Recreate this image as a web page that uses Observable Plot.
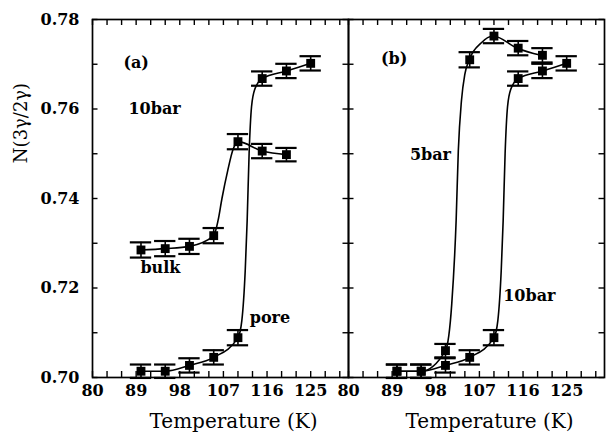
<!DOCTYPE html>
<html>
<head>
<meta charset="utf-8">
<script src="https://cdn.jsdelivr.net/npm/d3@7"></script>
<script src="https://cdn.jsdelivr.net/npm/@observablehq/plot@0.6"></script>
<style>
  html, body { margin: 0; padding: 0; background: #fff; }
  #chart { width: 607px; height: 437px; }
</style>
</head>
<body>
<div id="chart"></div>
<script>
// ---- data ----
const temps = [90, 95, 100, 105, 110, 115, 120, 125];

// panel (a), 10 bar
const bulk10 = [0.7285, 0.7288, 0.7293, 0.7317, 0.7527, 0.7506, 0.7498];
const bulkErr = [0.0017, 0.0017, 0.0017, 0.0017, 0.0017, 0.0016, 0.0015];
const pore10 = [0.7014, 0.7014, 0.7027, 0.7045, 0.7089, 0.7668, 0.7685, 0.7702];
const poreErr = [0.0015, 0.0015, 0.0016, 0.0016, 0.0017, 0.0016, 0.0016, 0.0016];

// panel (b), 5 bar (pore)
const pore5 = [0.7014, 0.7014, 0.7060, 0.7710, 0.7763, 0.7736, 0.7720];
const pore5Err = [0.0015, 0.0015, 0.0015, 0.0017, 0.0016, 0.0016, 0.0016];

// fitted guide curves
const bulkCurveX = [90, 95, 100, 105, 105.9, 106.7, 107.9, 109.0, 110, 115, 120];
const bulkCurveY = [0.7285, 0.7288, 0.7293, 0.7317, 0.7351, 0.7400, 0.7463, 0.7510, 0.7527, 0.7506, 0.7498];
const poreCurveX = [90, 95, 100, 105, 110, 110.8, 111.5, 111.9, 112.3, 112.8, 113.5, 115, 120, 125];
const poreCurveY = [0.7014, 0.7014, 0.7027, 0.7045, 0.7089, 0.7127, 0.7239, 0.7351, 0.7500, 0.7605, 0.7645, 0.7668, 0.7685, 0.7702];
const fiveCurveX = [90, 95, 100, 101.3, 102.2, 102.65, 103.3, 104.0, 104.9, 107.4, 109.8, 114.8, 119.7];
const fiveCurveY = [0.7014, 0.7014, 0.7060, 0.7165, 0.7351, 0.7507, 0.7619, 0.7678, 0.7710, 0.7748, 0.7763, 0.7736, 0.7720];

// axes
const xMajor = [80, 89, 98, 107, 116, 125];
const xMinor = [80, 83, 86, 89, 92, 95, 98, 101, 104, 107, 110, 113, 116, 119, 122, 125, 128, 131];
const yMajor = [0.70, 0.72, 0.74, 0.76, 0.78];
const yMinor = [0.70, 0.71, 0.72, 0.73, 0.74, 0.75, 0.76, 0.77, 0.78];

// annotations
const noteText = ["(a)", "10bar", "bulk", "pore", "(b)", "5bar", "10bar"];
const notePanel = ["a", "a", "a", "a", "b", "b", "b"];
const noteX = [89.0, 92.8, 94.0, 116.6, 89.4, 96.9, 117.3];
const noteY = [0.7702, 0.7601, 0.7246, 0.7134, 0.7712, 0.7498, 0.7183];

const xLabel = "Temperature (K)";
const yLabel = "N(3γ/2γ)";

// ---- build tables ----
function pts(panel, name, ys, errs) {
  return ys.map((y, i) => ({panel, name, x: temps[i], y, e: errs[i]}));
}
const points = [
  ...pts("a", "bulk", bulk10, bulkErr),
  ...pts("a", "pore", pore10, poreErr),
  ...pts("b", "5bar", pore5, pore5Err),
  ...pts("b", "10bar", pore10, poreErr)
];
function crv(panel, name, xs, ys) {
  return xs.map((x, i) => ({panel, name, x, y: ys[i]}));
}
const curves = [
  ...crv("a", "bulk", bulkCurveX, bulkCurveY),
  ...crv("a", "pore", poreCurveX, poreCurveY),
  ...crv("b", "5bar", fiveCurveX, fiveCurveY),
  ...crv("b", "10bar", poreCurveX, poreCurveY)
];
const notes = noteText.map((t, i) => ({text: t, panel: notePanel[i], x: noteX[i], y: noteY[i]}));

const W = 607, H = 437;
const mL = 91, mR = 3, mT = 19, mB = 60;
const ph = H - mT - mB;
const pw = (W - mL - mR) / 2;
const tk = 6;
const capHalf = 2.2;
const font = "DejaVu Serif";

const chart = Plot.plot({
  width: W,
  height: H,
  marginLeft: mL,
  marginRight: mR,
  marginTop: mT,
  marginBottom: mB,
  style: {fontFamily: font, fontSize: "16px", color: "#000", background: "#fff"},
  fx: {domain: ["a", "b"], padding: 0, axis: null, label: null},
  x: {domain: [80, 132.8], axis: null},
  y: {domain: [0.70, 0.78], axis: null},
  marks: [
    // inward ticks
    Plot.tickX(xMinor, {x: d => d, insetTop: ph - tk, stroke: "#000", strokeWidth: 1.4}),
    Plot.tickX(xMinor, {x: d => d, insetBottom: ph - tk, stroke: "#000", strokeWidth: 1.4}),
    Plot.tickY(yMinor, {y: d => d, insetRight: pw - tk, stroke: "#000", strokeWidth: 1.4}),
    Plot.tickY(yMinor, {y: d => d, insetLeft: pw - tk, stroke: "#000", strokeWidth: 1.4}),
    Plot.frame({stroke: "#000", strokeWidth: 1.7}),
    // tick labels
    Plot.axisX({ticks: xMajor, tickSize: 0, tickPadding: 7, tickFormat: d => String(d), label: null, fontWeight: "bold", fontSize: 16}),
    Plot.axisY({ticks: yMajor, tickSize: 0, tickPadding: 13, tickFormat: d3.format(".2f"), label: null, fontWeight: "bold", fontSize: 16}),
    // curves
    Plot.line(curves, {x: "x", y: "y", z: "name", fx: "panel", curve: "monotone-x", stroke: "#000", strokeWidth: 1.6}),
    // error bars
    Plot.ruleX(points, {x: "x", y1: d => d.y - d.e, y2: d => d.y + d.e, fx: "panel", stroke: "#000", strokeWidth: 1.6}),
    Plot.ruleY(points, {y: d => d.y - d.e, x1: d => d.x - capHalf, x2: d => d.x + capHalf, fx: "panel", stroke: "#000", strokeWidth: 2.2}),
    Plot.ruleY(points, {y: d => d.y + d.e, x1: d => d.x - capHalf, x2: d => d.x + capHalf, fx: "panel", stroke: "#000", strokeWidth: 2.2}),
    // markers
    Plot.dot(points, {x: "x", y: "y", fx: "panel", symbol: "square", r: 5, fill: "#000", stroke: "none"}),
    // annotations
    Plot.text(notes, {x: "x", y: "y", text: "text", fx: "panel", fontSize: 16, fontWeight: "bold", fill: "#000"}),
    // x label per panel
    Plot.text([xLabel], {frameAnchor: "bottom", dy: 50, dx: 13, fontSize: 20, fill: "#000", style: "letter-spacing:2px"})
  ]
});

document.getElementById("chart").appendChild(chart);

// rotated y-axis title
d3.select(chart).append("text")
  .attr("transform", "translate(21,123) rotate(-90)")
  .attr("text-anchor", "middle")
  .attr("dy", "0.35em")
  .attr("font-family", font)
  .attr("font-size", 18)
  .attr("fill", "#000")
  .text(yLabel);
</script>
</body>
</html>
